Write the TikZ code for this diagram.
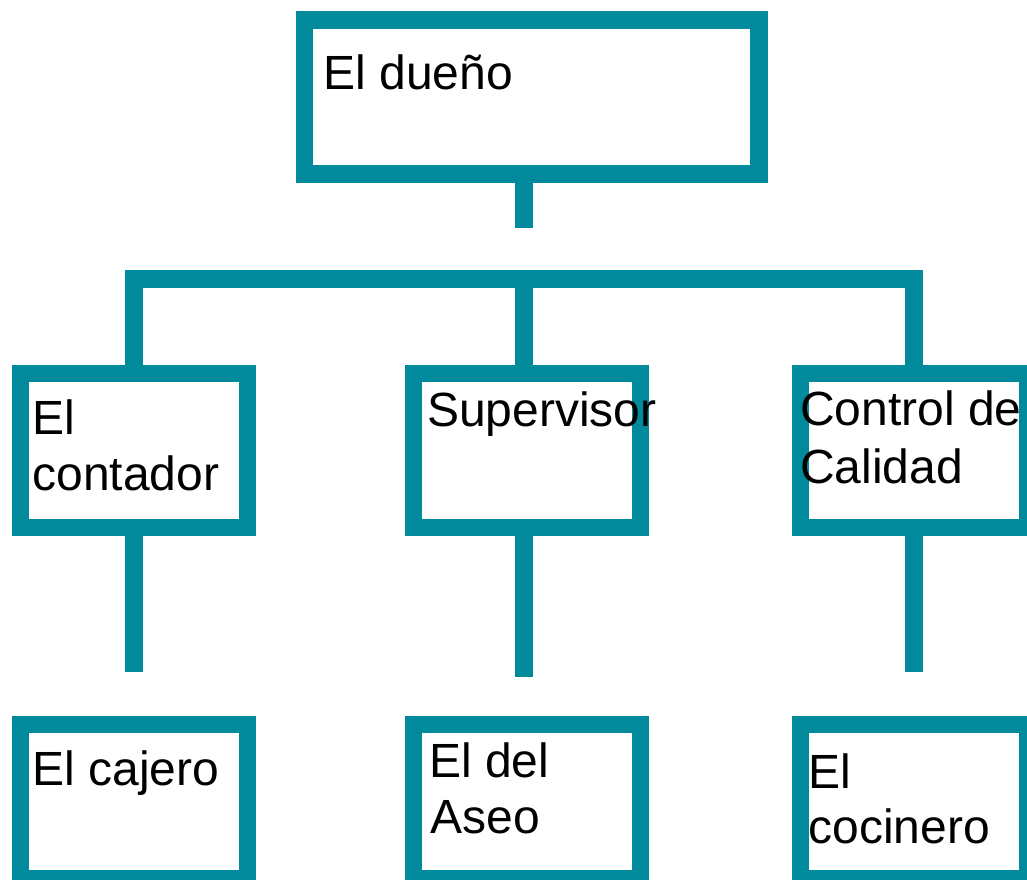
\documentclass[tikz,border=0pt]{standalone}
\usepackage{fontspec}
\setmainfont{Liberation Sans}
\definecolor{orgteal}{RGB}{0,138,155}
\tikzset{
  orgbox/.style={draw=orgteal, line width=17.4pt, rectangle, minimum width=227pt, minimum height=154.5pt, inner sep=0pt, fill=none},
  orgline/.style={draw=orgteal, line width=17.4pt, line cap=butt, line join=miter},
  lbl/.style={anchor=base west, inner sep=0pt, outer sep=0pt, font=\fontsize{48}{56.5}\selectfont, text=black}
}
\begin{document}
\begin{tikzpicture}[x=1pt,y=-1pt]
\useasboundingbox (0,0) rectangle (1027,879);
\clip (0,0) rectangle (1027,879);
% boxes
\node[orgbox, minimum width=454.6pt, minimum height=154pt] (top) at (531.5,96.8) {};
\node[orgbox] (c1) at (133.9,450.5) {};
\node[orgbox] (c2) at (527,450.5) {};
\node[orgbox] (c3) at (914,450.5) {};
\node[orgbox] (b1) at (133.9,801.7) {};
\node[orgbox] (b2) at (527,801.7) {};
\node[orgbox] (b3) at (914,801.7) {};
% coordinates
\coordinate (bar) at (524,279);
\coordinate (stemend) at (524,227.7);
\coordinate (e1) at (134,671.7);
\coordinate (e2) at (524,677);
\coordinate (e3) at (914,671.7);
% connectors
\draw[orgline] (top.south -| bar) -- (stemend);
\draw[orgline] (c1.north -| e1) |- (bar) -| (c3.north);
\draw[orgline] (c2.north -| bar) -- ([yshift=-8.7pt]bar);
\draw[orgline] (c1.south -| e1) -- (e1);
\draw[orgline] (c2.south -| e2) -- (e2);
\draw[orgline] (c3.south -| e3) -- (e3);
% labels
\node[lbl] (t0) at (323.5,89.3) {El dueño};
\node[lbl] (t1a) at (32.5,434.3) {El};
\node[lbl] (t1b) at (32.4,490.7) {contador};
\node[lbl] (t2) at (427,426.7) {Supervisor};
\node[lbl] (t3a) at (800.2,425.7) {Control de};
\node[lbl] (t3b) at (800.2,483.3) {Calidad};
\node[lbl] (t4) at (32.5,785.7) {El cajero};
\node[lbl] (t5a) at (429.2,777.3) {El del};
\node[lbl] (t5b) at (430.5,833.3) {Aseo};
\node[lbl] (t6a) at (808.5,788.3) {El};
\node[lbl] (t6b) at (808.4,843.3) {cocinero};
\end{tikzpicture}
\end{document}
